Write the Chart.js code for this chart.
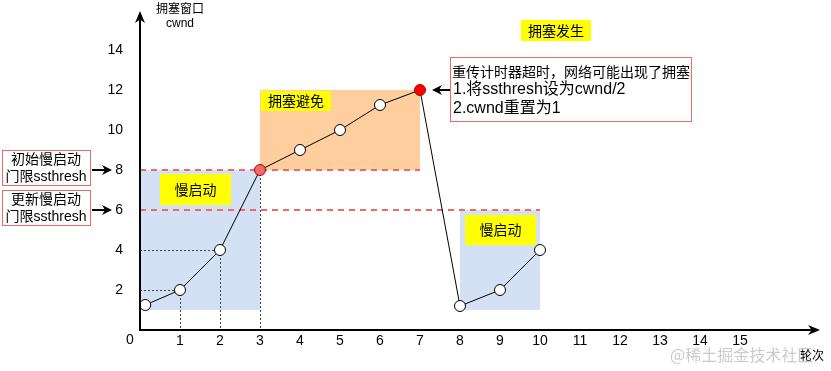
<!DOCTYPE html>
<html>
<head>
<meta charset="utf-8">
<script src="https://cdn.jsdelivr.net/npm/chart.js@4.4.0/dist/chart.umd.min.js"></script>
<style>
  body { margin: 0; background: #fff; }
  #wrap { width: 831px; height: 371px; }
</style>
</head>
<body>
<div id="wrap"><canvas id="cwnd-chart" width="831" height="371"></canvas></div>
<script>
// transmission rounds and congestion window
var rounds = [0.13, 1, 2, 3, 4, 5, 6, 7, 8, 9, 10];
var cwnd = [1.25, 2, 4, 8, 9, 10, 11.25, 12, 1.2, 2, 4];
var redPoints = [3, 7];
var xTicks = [1, 2, 3, 4, 5, 6, 7, 8, 9, 10, 11, 12, 13, 14, 15];
var yTicks = [2, 4, 6, 8, 10, 12, 14];

// phases (slow start / congestion avoidance)
var phaseNames = ['慢启动', '拥塞避免', '慢启动'];
var phaseFrom = [0, 3, 8];
var phaseTo = [3, 7, 10];
var phaseLow = [1, 8, 1];
var phaseHigh = [8, 12, 6];

// ssthresh lines
var ssthresh = [8, 6];
var ssthreshEnd = [7, 10];
var ssthreshNames = [['初始慢启动', '门限ssthresh'], ['更新慢启动', '门限ssthresh']];

// dotted guide lines to the axes (indexes into the series)
var hGuides = [1, 2];
var vGuides = [1, 2, 3];

var noteLines = ['重传计时器超时，网络可能出现了拥塞', '1.将ssthresh设为cwnd/2', '2.cwnd重置为1'];

var CJK = '"Noto Sans CJK SC", sans-serif';
var LAT = '"Liberation Sans", "Noto Sans CJK SC", sans-serif';
var phaseFill = ['#D4E1F5', '#FFCE9F', '#D4E1F5'];
var labelBoxes = [[160, 174, 71, 31], [261, 91, 70, 20], [465, 215, 71, 30]];

function arrowLine(c, x1, y1, x2, y2, len, half) {
  var a = Math.atan2(y2 - y1, x2 - x1);
  c.beginPath();
  c.moveTo(x1, y1);
  c.lineTo(x2 - Math.cos(a) * len * 0.7, y2 - Math.sin(a) * len * 0.7);
  c.stroke();
  c.beginPath();
  c.moveTo(x2, y2);
  c.lineTo(x2 - Math.cos(a) * len - Math.sin(a) * half, y2 - Math.sin(a) * len + Math.cos(a) * half);
  c.lineTo(x2 - Math.cos(a) * len * 0.7, y2 - Math.sin(a) * len * 0.7);
  c.lineTo(x2 - Math.cos(a) * len + Math.sin(a) * half, y2 - Math.sin(a) * len - Math.cos(a) * half);
  c.closePath();
  c.fill();
}

function yellowLabel(c, text, b) {
  c.fillStyle = '#FFFF00';
  c.fillRect(b[0], b[1], b[2], b[3]);
  c.fillStyle = '#000';
  c.font = '14px ' + CJK;
  c.textAlign = 'center';
  c.textBaseline = 'middle';
  c.fillText(text, b[0] + b[2] / 2, b[1] + b[3] / 2);
}

var diagram = {
  id: 'diagram',
  beforeDatasetsDraw: function(chart) {
    var c = chart.ctx, xs = chart.scales.x, ys = chart.scales.y;
    c.save();
    // phase boxes
    for (var i = 0; i < phaseNames.length; i++) {
      var x0 = xs.getPixelForValue(phaseFrom[i]), x1 = xs.getPixelForValue(phaseTo[i]);
      var y0 = ys.getPixelForValue(phaseHigh[i]), y1 = ys.getPixelForValue(phaseLow[i]);
      c.fillStyle = phaseFill[i];
      c.fillRect(x0, y0, x1 - x0, y1 - y0);
    }
    // dotted guides
    c.strokeStyle = '#444';
    c.lineWidth = 1;
    c.setLineDash([2, 2]);
    hGuides.forEach(function(k) {
      var y = Math.round(ys.getPixelForValue(cwnd[k])) + 0.5;
      c.beginPath();
      c.moveTo(xs.getPixelForValue(0), y);
      c.lineTo(xs.getPixelForValue(rounds[k]), y);
      c.stroke();
    });
    vGuides.forEach(function(k) {
      var x = Math.round(xs.getPixelForValue(rounds[k])) + 0.5;
      c.beginPath();
      c.moveTo(x, ys.getPixelForValue(cwnd[k]));
      c.lineTo(x, ys.getPixelForValue(0));
      c.stroke();
    });
    // ssthresh dashed lines
    c.strokeStyle = '#EA6B66';
    c.lineWidth = 2;
    c.setLineDash([6, 5]);
    for (var j = 0; j < ssthresh.length; j++) {
      var yy = ys.getPixelForValue(ssthresh[j]);
      c.beginPath();
      c.moveTo(xs.getPixelForValue(0), yy);
      c.lineTo(xs.getPixelForValue(ssthreshEnd[j]), yy);
      c.stroke();
    }
    c.setLineDash([]);
    // phase labels
    for (var p = 0; p < phaseNames.length; p++) yellowLabel(c, phaseNames[p], labelBoxes[p]);
    yellowLabel(c, '拥塞发生', [521, 20, 70, 21]);
    c.restore();
  },
  afterDraw: function(chart) {
    var c = chart.ctx, xs = chart.scales.x, ys = chart.scales.y;
    var ox = xs.getPixelForValue(0), oy = ys.getPixelForValue(0);
    c.save();
    c.strokeStyle = '#000';
    c.fillStyle = '#000';
    c.lineWidth = 2;
    arrowLine(c, ox, oy + 1, ox, 11, 12, 5);
    arrowLine(c, ox - 1, oy, 820, oy, 12, 5);

    c.textAlign = 'center';
    c.textBaseline = 'middle';
    c.font = '14px ' + LAT;
    c.fillText('0', 130, 340);
    c.font = '12px ' + CJK;
    c.fillText('拥塞窗口', 180, 8);
    c.font = '12px ' + LAT;
    c.fillText('cwnd', 180, 24);

    // watermark and x title
    c.font = '16px ' + CJK;
    c.fillStyle = 'rgba(160,160,160,0.55)';
    c.textAlign = 'left';
    c.fillText('@稀土掘金技术社区', 670, 355);
    c.fillStyle = '#000';
    c.font = '12px ' + CJK;
    c.fillText('轮次', 800, 355);

    // ssthresh notes on the left
    c.lineWidth = 1;
    for (var i = 0; i < ssthresh.length; i++) {
      var y = ys.getPixelForValue(ssthresh[i]);
      c.fillStyle = '#fff';
      c.strokeStyle = '#EA6B66';
      c.fillRect(2, y - 20, 88, 35);
      c.strokeRect(2.5, y - 19.5, 88, 35);
      c.fillStyle = '#000';
      c.textAlign = 'center';
      c.font = '14px ' + LAT;
      c.fillText(ssthreshNames[i][0], 46, y - 10);
      c.fillText(ssthreshNames[i][1], 46, y + 7);
      c.strokeStyle = '#000';
      c.lineWidth = 2;
      arrowLine(c, 92, y, 112, y, 10, 5);
      c.lineWidth = 1;
    }

    // timeout note
    var py = ys.getPixelForValue(cwnd[7]);
    c.fillStyle = '#fff';
    c.strokeStyle = '#EA6B66';
    c.fillRect(450, 57, 241, 64);
    c.strokeRect(450.5, 57.5, 241, 64);
    c.fillStyle = '#000';
    c.textAlign = 'left';
    c.font = '14px ' + LAT;
    c.fillText(noteLines[0], 452, 73);
    c.font = '16px ' + LAT;
    c.fillText(noteLines[1], 453, 90);
    c.fillText(noteLines[2], 453, 109);
    c.strokeStyle = '#000';
    c.lineWidth = 2;
    arrowLine(c, 450, py, 432, py, 10, 5);
    c.restore();
  }
};

var pointColors = rounds.map(function(r, i) {
  if (redPoints.indexOf(i) === 0) return '#F06B66';
  if (redPoints.indexOf(i) === 1) return '#FF0000';
  return '#fff';
});

var ctx = document.getElementById('cwnd-chart').getContext('2d');
var chart = new Chart(ctx, {
  type: 'line',
  data: {
    datasets: [{
      data: rounds.map(function(r, i) { return { x: r, y: cwnd[i] }; }),
      borderColor: '#000',
      borderWidth: 1,
      pointRadius: 5.5,
      pointBorderWidth: 1,
      pointBorderColor: rounds.map(function(r, i) { return redPoints.indexOf(i) >= 0 ? '#B20000' : '#000'; }),
      pointBackgroundColor: pointColors,
      tension: 0
    }]
  },
  options: {
    responsive: false,
    animation: false,
    layout: { padding: { top: 12, right: 11, left: 0, bottom: 0 } },
    plugins: { legend: { display: false }, tooltip: { enabled: false } },
    scales: {
      x: {
        type: 'linear', min: 0, max: 17,
        afterBuildTicks: function(s) { s.ticks = xTicks.map(function(v) { return { value: v }; }); },
        afterFit: function(s) { s.height = 41; s.paddingLeft = 0; s.paddingRight = 0; },
        grid: { display: false, drawTicks: false },
        border: { display: false },
        ticks: { color: '#000', padding: 3, autoSkip: false, maxRotation: 0, font: { family: LAT, size: 14 } }
      },
      y: {
        type: 'linear', min: 0, max: 15.9,
        afterBuildTicks: function(s) { s.ticks = yTicks.map(function(v) { return { value: v }; }); },
        afterFit: function(s) { s.width = 140; s.paddingTop = 0; s.paddingBottom = 0; },
        grid: { display: false, drawTicks: false },
        border: { display: false },
        ticks: { color: '#000', padding: 17, font: { family: LAT, size: 14 } }
      }
    }
  },
  plugins: [diagram]
});
</script>
</body>
</html>
